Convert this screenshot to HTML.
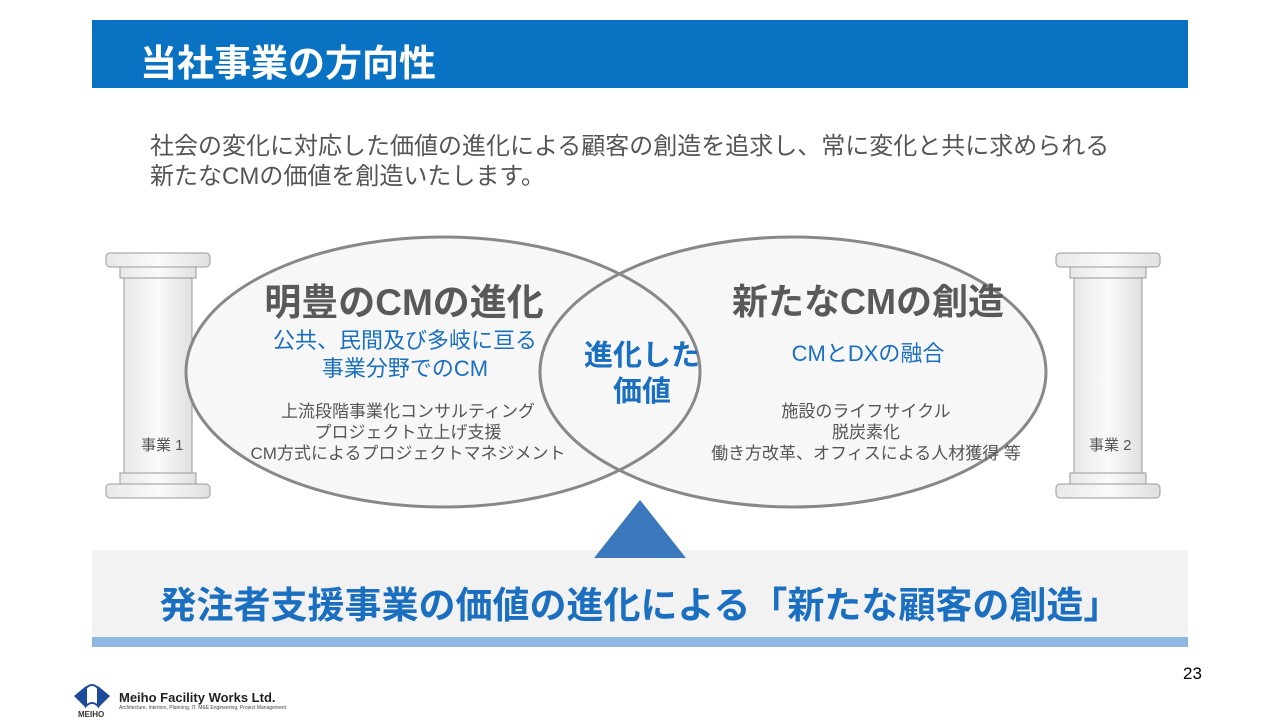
<!DOCTYPE html>
<html><head><meta charset="utf-8"><style>
body{margin:0;width:1280px;height:722px;background:#fff;position:relative;overflow:hidden;font-family:"Liberation Sans","Noto Sans CJK JP",sans-serif}
.a{position:absolute;white-space:nowrap}
.c{text-align:center}
</style></head><body>
<div class="a" style="left:92px;top:20px;width:1096px;height:68px;background:#0a72c2"></div>
<div class="a" style="left:140px;top:33px;font-size:37px;font-weight:bold;color:#fff">当社事業の方向性</div>
<div class="a" style="left:150px;top:132px;font-size:24px;color:#555;line-height:30px">社会の変化に対応した価値の進化による顧客の創造を追求し、常に変化と共に求められる<br>新たなCMの価値を創造いたします。</div>

<svg class="a" style="left:0;top:0" width="1280" height="722">
<defs><linearGradient id="p" x1="0" x2="1"><stop offset="0" stop-color="#e8e8e8"/><stop offset=".5" stop-color="#fafafa"/><stop offset="1" stop-color="#e0e0e0"/></linearGradient></defs>
<g stroke="#999" stroke-width="1" fill="url(#p)">
<rect x="106" y="253" width="104" height="14" rx="4"/><rect x="120" y="267" width="76" height="11"/><rect x="124" y="278" width="68" height="195"/><rect x="120" y="473" width="76" height="11"/><rect x="106" y="484" width="104" height="14" rx="4"/>
<rect x="1056" y="253" width="104" height="14" rx="4"/><rect x="1070" y="267" width="76" height="11"/><rect x="1074" y="278" width="68" height="195"/><rect x="1070" y="473" width="76" height="11"/><rect x="1056" y="484" width="104" height="14" rx="4"/>
</g>
<ellipse cx="443" cy="372" rx="257" ry="135" fill="#f7f7f7"/>
<ellipse cx="793" cy="372" rx="253" ry="135" fill="#f7f7f7"/>
<ellipse cx="443" cy="372" rx="257" ry="135" fill="none" stroke="#888" stroke-width="3"/>
<ellipse cx="793" cy="372" rx="253" ry="135" fill="none" stroke="#888" stroke-width="3"/>
<rect x="92" y="550" width="1096" height="88" fill="#f2f2f2"/>
<rect x="92" y="637" width="1096" height="10" fill="#8fb7df"/>
<polygon points="640,500 594,558 686,558" fill="#3b78be"/>
</svg>

<div class="a" style="left:141px;top:434px;font-size:15px;color:#555">事業 1</div>
<div class="a" style="left:1089px;top:434px;font-size:15px;color:#555">事業 2</div>

<div class="a c" style="left:204px;top:272px;width:400px;font-size:37px;font-weight:bold;color:#595959">明豊のCMの進化</div>
<div class="a c" style="left:205px;top:327px;width:400px;font-size:22px;color:#1a6fc0;line-height:28px">公共、民間及び多岐に亘る<br>事業分野でのCM</div>
<div class="a c" style="left:208px;top:401px;width:400px;font-size:17px;color:#555;line-height:21px">上流段階事業化コンサルティング<br>プロジェクト立上げ支援<br>CM方式によるプロジェクトマネジメント</div>

<div class="a c" style="left:567px;top:338px;width:150px;font-size:29px;font-weight:bold;color:#1a6fc0;line-height:36px">進化した<br>価値</div>

<div class="a c" style="left:668px;top:273px;width:400px;font-size:36px;font-weight:bold;color:#595959">新たなCMの創造</div>
<div class="a c" style="left:668px;top:336px;width:400px;font-size:22px;color:#1a6fc0">CMとDXの融合</div>
<div class="a c" style="left:666px;top:401px;width:400px;font-size:17px;color:#555;line-height:21px">施設のライフサイクル<br>脱炭素化<br>働き方改革、オフィスによる人材獲得 等</div>

<div class="a c" style="left:92px;top:575px;width:1096px;font-size:37px;font-weight:bold;color:#1a6fc0">発注者支援事業の価値の進化による「新たな顧客の創造」</div>

<div class="a" style="left:1183px;top:664px;font-size:17px;color:#000">23</div>
<svg class="a" style="left:72px;top:684px" width="40" height="36"><polygon points="2,12 14,2 14,24" fill="#1e4a9a"/><polygon points="38,12 26,2 26,24" fill="#1e4a9a"/><path d="M14 4 Q20 -2 26 4 L26 22 Q20 16 14 22Z" fill="none" stroke="#1e4a9a" stroke-width="2"/></svg>
<div class="a" style="left:78px;top:710px;font-size:8px;font-weight:bold;color:#333">MEIHO</div>
<div class="a" style="left:119px;top:690px;font-size:13px;font-weight:bold;color:#222">Meiho Facility Works Ltd.</div>
<div class="a" style="left:119px;top:705px;font-size:5px;color:#444">Architecture, Interiors, Planning, IT, M&amp;E Engineering, Project Management</div>
</body></html>
